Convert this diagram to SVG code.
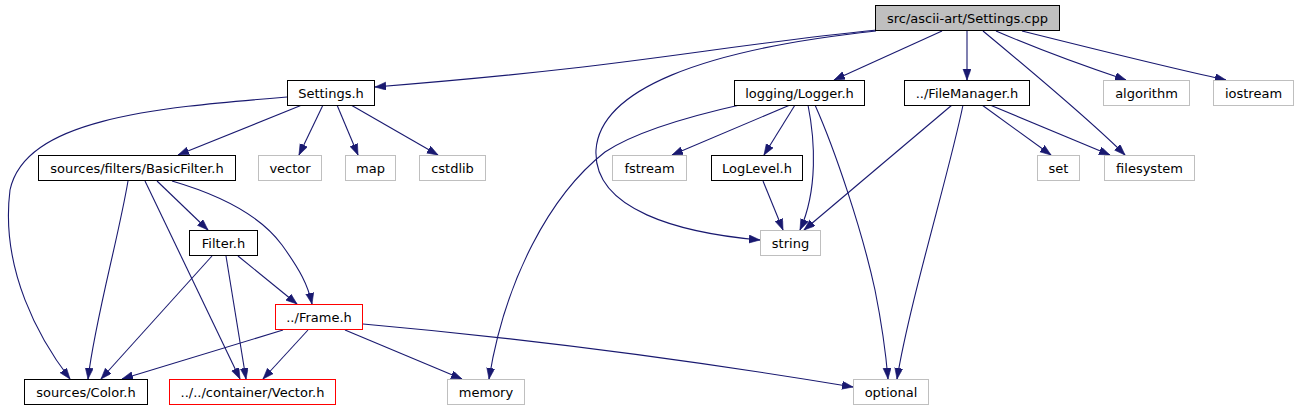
<svg xmlns="http://www.w3.org/2000/svg" width="1299" height="411" viewBox="0 0 1299 411">
<style>
  .n rect { fill: #ffffff; stroke: #000000; stroke-width: 1; }
  .ext rect { stroke: #bfbfbf; }
  .red rect { stroke: #ff0000; }
  .root rect { fill: #bfbfbf; }
  text { font-family: "DejaVu Sans", "Liberation Sans", sans-serif; font-size: 13px; fill: #000000; text-anchor: middle; }
  #edges path { fill: none; stroke: #191970; stroke-width: 1.1; marker-end: url(#ah); }
</style>
<defs>
  <marker id="ah" markerUnits="userSpaceOnUse" markerWidth="13" markerHeight="10" refX="11" refY="4" orient="auto">
    <path d="M0,0 L11,4 L0,8 z" fill="#191970" stroke="#191970" stroke-width="0.6"/>
  </marker>
</defs>
<rect width="1299" height="411" fill="#ffffff"/>
<g id="edges">
  <path d="M877,30 C700,48 640,66 375,87"/>
  <path d="M876,31 C700,50 600,90 596,150 C593,210 680,233 760,240"/>
  <path d="M942,31 L834,80"/>
  <path d="M967,31 L967,80"/>
  <path d="M983,31 C1030,70 1090,120 1125,155"/>
  <path d="M996,31 C1040,50 1090,68 1126,80"/>
  <path d="M1022,31 C1090,48 1170,68 1226,80"/>
  <path d="M287,97 C150,108 25,120 10,190 C0,270 40,340 70,379"/>
  <path d="M302,105 L178,155"/>
  <path d="M323,105 L299,155"/>
  <path d="M337,105 L358,155"/>
  <path d="M351,105 L438,155"/>
  <path d="M744,104 C690,116 635,132 605,152 C550,195 505,280 489,379"/>
  <path d="M790,105 L672,155"/>
  <path d="M795,105 L764,155"/>
  <path d="M808,105 C815,140 818,190 800,230"/>
  <path d="M815,105 C835,150 862,230 875,290 C883,330 886,355 888,379"/>
  <path d="M952,105 L804,230"/>
  <path d="M982,105 L1051,155"/>
  <path d="M990,105 L1110,155"/>
  <path d="M963,105 C950,170 910,300 897,379"/>
  <path d="M763,181 L783,230"/>
  <path d="M128,181 C118,240 95,320 88,379"/>
  <path d="M145,181 L240,379"/>
  <path d="M157,181 L208,230"/>
  <path d="M172,181 C220,195 260,215 282,245 C300,270 308,285 312,304"/>
  <path d="M212,256 L101,379"/>
  <path d="M226,256 L246,379"/>
  <path d="M238,256 L297,304"/>
  <path d="M283,330 L122,379"/>
  <path d="M308,330 L263,379"/>
  <path d="M345,330 L462,379"/>
  <path d="M363,324 Q600,345 853,387"/>
</g>
<g id="node-settings-cpp" class="n root"><rect x="875.5" y="5.5" width="184" height="25"/><text x="967.5" y="22.5">src/ascii-art/Settings.cpp</text></g>
<g id="node-settings-h" class="n"><rect x="287.5" y="80.5" width="87" height="25"/><text x="331" y="97.5">Settings.h</text></g>
<g id="node-logger" class="n"><rect x="734.5" y="80.5" width="130" height="25"/><text x="799.5" y="97.5">logging/Logger.h</text></g>
<g id="node-filemanager" class="n"><rect x="904.5" y="80.5" width="125" height="25"/><text x="967" y="97.5">../FileManager.h</text></g>
<g id="node-algorithm" class="n ext"><rect x="1103.5" y="80.5" width="86" height="25"/><text x="1146.5" y="97.5">algorithm</text></g>
<g id="node-iostream" class="n ext"><rect x="1213.5" y="80.5" width="80" height="25"/><text x="1253.5" y="97.5">iostream</text></g>
<g id="node-basicfilter" class="n"><rect x="38.5" y="155.5" width="197" height="25"/><text x="137" y="172.5">sources/filters/BasicFilter.h</text></g>
<g id="node-vector" class="n ext"><rect x="258.5" y="155.5" width="63" height="25"/><text x="290" y="172.5">vector</text></g>
<g id="node-map" class="n ext"><rect x="345.5" y="155.5" width="50" height="25"/><text x="370.5" y="172.5">map</text></g>
<g id="node-cstdlib" class="n ext"><rect x="419.5" y="155.5" width="66" height="25"/><text x="452.5" y="172.5">cstdlib</text></g>
<g id="node-fstream" class="n ext"><rect x="612.5" y="155.5" width="74" height="25"/><text x="649.5" y="172.5">fstream</text></g>
<g id="node-loglevel" class="n"><rect x="711.5" y="155.5" width="91" height="25"/><text x="757" y="172.5">LogLevel.h</text></g>
<g id="node-set" class="n ext"><rect x="1037.5" y="155.5" width="42" height="25"/><text x="1058.5" y="172.5">set</text></g>
<g id="node-filesystem" class="n ext"><rect x="1104.5" y="155.5" width="90" height="25"/><text x="1149.5" y="172.5">filesystem</text></g>
<g id="node-filter" class="n"><rect x="189.5" y="230.5" width="68" height="25"/><text x="223.5" y="247.5">Filter.h</text></g>
<g id="node-string" class="n ext"><rect x="760.5" y="230.5" width="60" height="25"/><text x="790.5" y="247.5">string</text></g>
<g id="node-frame" class="n red"><rect x="275.5" y="304.5" width="87" height="25"/><text x="319" y="321.5">../Frame.h</text></g>
<g id="node-color" class="n"><rect x="24.5" y="379.5" width="123" height="25"/><text x="86" y="396.5">sources/Color.h</text></g>
<g id="node-vector-h" class="n red"><rect x="169.5" y="379.5" width="166" height="25"/><text x="252.5" y="396.5">../../container/Vector.h</text></g>
<g id="node-memory" class="n ext"><rect x="447.5" y="379.5" width="77" height="25"/><text x="486" y="396.5">memory</text></g>
<g id="node-optional" class="n ext"><rect x="853.5" y="379.5" width="75" height="25"/><text x="891" y="396.5">optional</text></g>
</svg>
